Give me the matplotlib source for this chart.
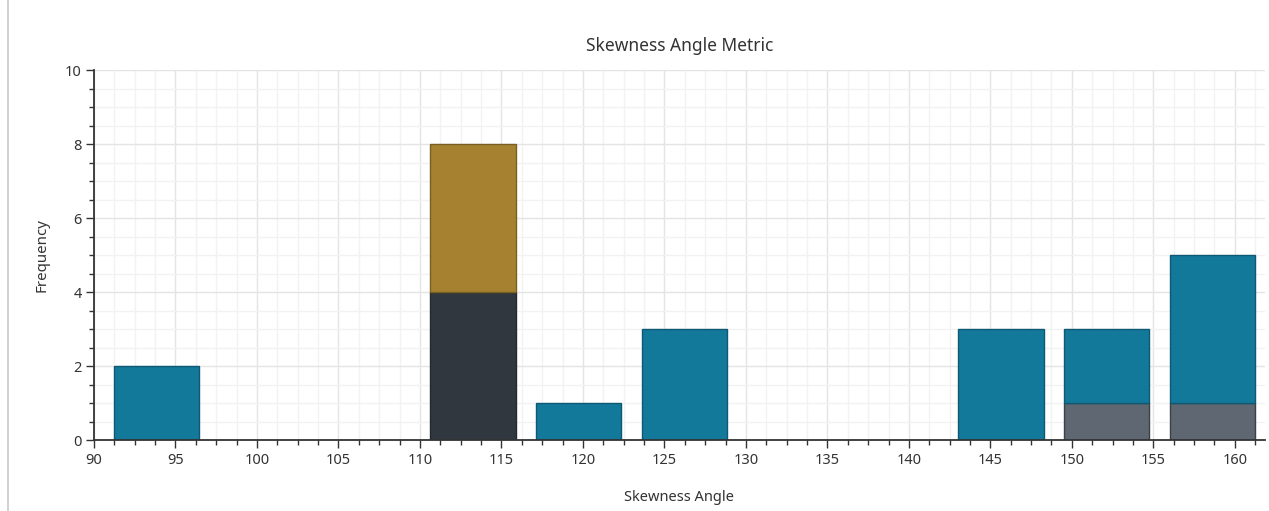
import matplotlib
matplotlib.use("Agg")
import matplotlib.pyplot as plt
from matplotlib.ticker import MultipleLocator
from matplotlib.lines import Line2D

# Histogram bins (centres) and stacked counts per category
bin_centers = [93.82, 113.26, 119.74, 126.22, 145.66, 152.14, 158.62]
bar_width = 5.24
count_gray = [0, 0, 0, 0, 0, 1, 1]
count_dark = [0, 4, 0, 0, 0, 0, 0]
count_gold = [0, 4, 0, 0, 0, 0, 0]
count_teal = [2, 0, 1, 3, 3, 2, 4]

x_ticks = [90, 95, 100, 105, 110, 115, 120, 125, 130, 135, 140, 145, 150, 155, 160]
y_ticks = [0, 2, 4, 6, 8, 10]

plt.rcParams['font.family'] = ['Noto Sans', 'DejaVu Sans']

fig = plt.figure(figsize=(12.69, 5.11), dpi=100)
ax = fig.add_axes([94 / 1269, 1 - 440 / 511, (1265 - 94) / 1269, (440 - 70) / 511])

series = [
    (count_gray, "#5f6872", "#3a4148"),
    (count_dark, "#30373e", "#23292e"),
    (count_gold, "#a68230", "#7a5f22"),
    (count_teal, "#12799b", "#0d5873"),
]
bottom = [0] * len(bin_centers)
for counts, face, edge in series:
    idx = [i for i, c in enumerate(counts) if c > 0]
    ax.bar([bin_centers[i] for i in idx], [counts[i] for i in idx], width=bar_width,
           bottom=[bottom[i] for i in idx], color=face,
           edgecolor=edge, linewidth=1.0, zorder=3)
    bottom = [b + c for b, c in zip(bottom, counts)]

ax.set_xlim(90, 161.85)
ax.set_ylim(0, 10)
ax.set_xticks(x_ticks)
ax.set_yticks(y_ticks)
ax.xaxis.set_minor_locator(MultipleLocator(1.25))
ax.yaxis.set_minor_locator(MultipleLocator(0.5))

ax.grid(True, which="major", color="#e4e4e4", linewidth=1.0, zorder=0)
ax.grid(True, which="minor", color="#f2f2f2", linewidth=1.0, zorder=0)
ax.set_axisbelow(True)

for side in ("top", "right"):
    ax.spines[side].set_visible(False)
for side in ("left", "bottom"):
    ax.spines[side].set_color("#333333")
    ax.spines[side].set_linewidth(1.3)
    ax.spines[side].set_zorder(4)

ax.tick_params(axis="both", which="major", length=6, width=1.0, color="#333333",
               labelsize=10.5, labelcolor="#333333", pad=3)
ax.tick_params(axis="both", which="minor", length=3.5, width=1.0, color="#333333")

ax.set_title("Skewness Angle Metric", fontsize=12.5, color="#333333", pad=14)
ax.set_xlabel("Skewness Angle", fontsize=10.5, color="#333333", labelpad=16)
ax.set_ylabel("Frequency", fontsize=10.8, color="#333333", labelpad=11)

# Thin border on the left side of the panel
fig.add_artist(Line2D([8 / 1269, 8 / 1269], [0, 1], transform=fig.transFigure,
                      color="#c8c8c8", linewidth=1.2))

fig.savefig("out.png", dpi=100)
